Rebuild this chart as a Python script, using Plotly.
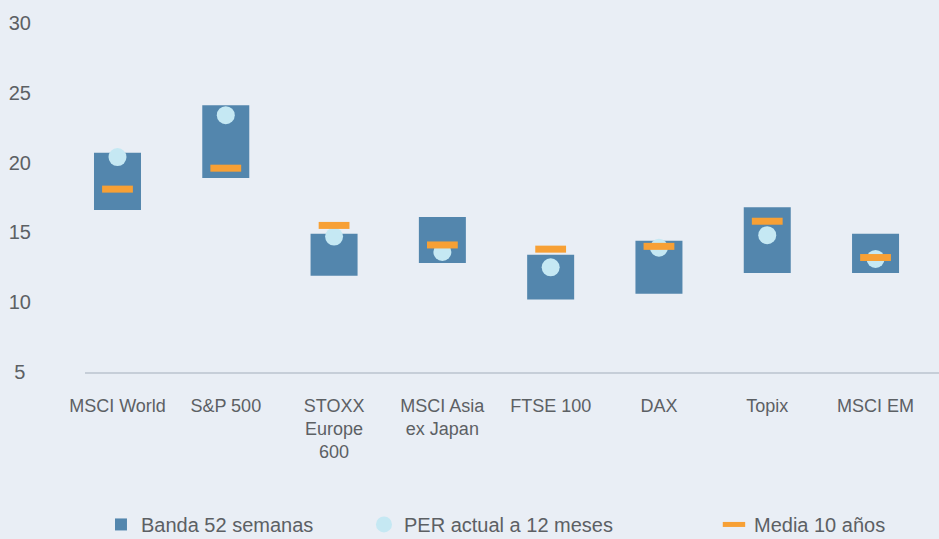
import plotly.graph_objects as go

categories = ["MSCI World", "S&P 500", "STOXX<br>Europe<br>600", "MSCI Asia<br>ex Japan",
              "FTSE 100", "DAX", "Topix", "MSCI EM"]
band_low = [16.6, 18.9, 11.9, 12.8, 10.2, 10.6, 12.1, 12.1]
band_high = [20.7, 24.1, 14.9, 16.1, 13.4, 14.4, 16.8, 14.9]
per_actual = [20.4, 23.4, 14.7, 13.6, 12.5, 13.9, 14.8, 13.1]
media_10 = [18.1, 19.6, 15.5, 14.1, 13.8, 14.0, 15.8, 13.2]
y_ticks = [5, 10, 15, 20, 25, 30]

BG = "#E9EEF5"
TXT = "#5c6064"
FONT = "Liberation Sans, Arial, sans-serif"

fig = go.Figure()
fig.add_trace(go.Bar(
    x=categories,
    y=[h - l for h, l in zip(band_high, band_low)],
    base=band_low,
    width=0.434,
    marker=dict(color="#5386AD", line=dict(width=0)),
    name="Banda 52 semanas",
    legend="legend",
))
fig.add_trace(go.Scatter(
    x=categories, y=per_actual, mode="markers",
    marker=dict(symbol="circle", size=18, color="#C5E8F3", line=dict(width=0)),
    name="PER actual a 12 meses",
    legend="legend",
))
fig.add_trace(go.Scatter(
    x=categories, y=media_10, mode="markers",
    marker=dict(symbol="line-ew", size=22, color="#F7A035",
                line=dict(width=7, color="#F7A035")),
    name="Media 10 años",
    legend="legend2",
))

legend_common = dict(
    orientation="h", yref="container", yanchor="middle", y=0.027,
    font=dict(size=20, color=TXT), bgcolor="rgba(0,0,0,0)",
    traceorder="normal",
)

fig.update_layout(
    width=939, height=539,
    margin=dict(l=85, r=0, t=23, b=167, autoexpand=False),
    paper_bgcolor=BG, plot_bgcolor=BG,
    font=dict(family=FONT, color=TXT, size=18),
    showlegend=True,
    legend=dict(x=0.0187, xanchor="left", entrywidth=218, entrywidthmode="pixels",
                **legend_common),
    legend2=dict(x=0.7365, xanchor="left", **legend_common),
    bargap=0.5,
)
fig.update_xaxes(
    type="category", range=[-0.3, 7.586],
    showgrid=False, zeroline=False,
    showline=True, linecolor="#C6CED8", linewidth=2,
    ticks="", ticklabelstandoff=16,
    tickfont=dict(size=18, color=TXT),
)
fig.update_yaxes(
    range=[5, 30], tickvals=y_ticks,
    ticktext=[str(v) if v >= 10 else str(v) + "\u00a0" for v in y_ticks],
    showgrid=False, zeroline=False, showline=False,
    ticks="", ticklabelstandoff=53,
    tickfont=dict(size=20, color=TXT),
)

fig.write_html("out.html", config={"displayModeBar": False},
               post_script="document.body.style.margin='0';")
